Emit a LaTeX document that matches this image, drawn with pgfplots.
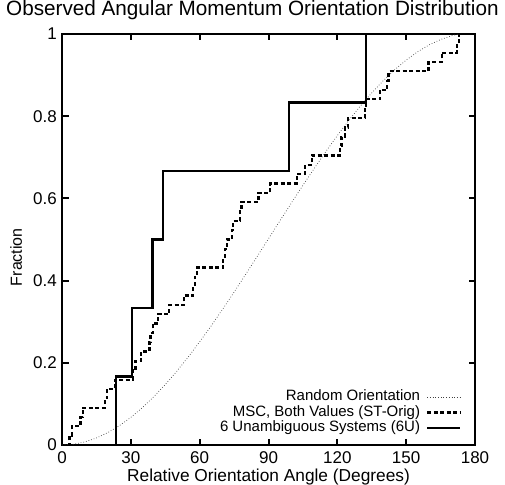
\documentclass[border=0pt]{standalone}
\usepackage{fontspec}
\setmainfont{Liberation Sans}
\usepackage{pgfplots}
\pgfplotsset{compat=1.18}
\begin{document}
\begin{tikzpicture}
\begin{axis}[
  name=ax,
  scale only axis,
  width=413pt, height=411pt,
  xmin=0, xmax=180, ymin=0, ymax=1,
  xtick={0,30,60,90,120,150,180},
  ytick={0,0.2,0.4,0.6,0.8,1},
  /pgf/number format/assume math mode=true,
  tick align=inside,
  major tick length=6.5pt,
  axis line style={line width=2pt},
  every tick/.style={black, line width=2pt},
  ticklabel style={font=\fontsize{17}{17}\selectfont},
  xticklabel style={anchor=base, yshift=-18.5pt, inner sep=0pt},
  yticklabel style={anchor=east, xshift=-5pt, inner sep=0pt},
  title={Observed Angular Momentum Orientation Distribution},
  title style={font=\fontsize{20.7}{20.7}\selectfont, at={(axis description cs:0.461,1.0316)}, anchor=base, inner sep=0pt},
  xlabel={Relative Orientation Angle (Degrees)},
  xlabel style={font=\fontsize{17.3}{17.3}\selectfont, at={(axis description cs:0.5,-0.0876)}, anchor=base, inner sep=0pt},
  ylabel={Fraction},
  ylabel style={font=\fontsize{16}{16}\selectfont, at={(axis description cs:-0.111,0.457)}, anchor=center, inner sep=0pt},
  legend plot pos=right,
  legend cell align=right,
  legend image code/.code={\draw[#1] (0pt,0pt) -- (33pt,0pt);},
  legend style={draw=none, fill=none, at={(axis description cs:0.975,0.017)}, anchor=south east,
    font=\fontsize{15}{15}\selectfont,
    nodes={inner sep=1pt, text height=10.5pt, text depth=3pt},
    row sep=0pt, column sep=5pt},
]
\addplot[black!75, line width=0.7pt, dotted] coordinates {
(0,0) (5,0.00191) (10,0.00762) (15,0.01710) (20,0.03027) (25,0.04702)
(30,0.06724) (35,0.09076) (40,0.11742) (45,0.14699) (50,0.17927)
(55,0.21401) (60,0.25094) (65,0.28977) (70,0.33022) (75,0.37198)
(80,0.41472) (85,0.45813) (90,0.50187) (95,0.54561) (100,0.58902)
(105,0.63176) (110,0.67352) (115,0.71397) (120,0.75280) (125,0.78973)
(130,0.82447) (135,0.85674) (140,0.88632) (145,0.91297) (150,0.93650)
(155,0.95672) (160,0.97347) (165,0.98664) (170,0.99612) (173,1.0)
};
\addlegendentry{Random Orientation}
\addplot[black, line width=2.2pt, dash pattern=on 4pt off 2.5pt, const plot] coordinates {
(2.5,0) (3.3,0.0227) (4.2,0.0455) (8.1,0.0682) (9.0,0.0909) (18.7,0.1136)
(19.5,0.1364) (23.1,0.1591) (30.8,0.1818) (32.0,0.2045) (34.5,0.2273)
(38.1,0.2500) (38.6,0.2727) (39.5,0.2955) (42.0,0.3182) (46.8,0.3409)
(53.2,0.3636) (57.2,0.3864) (57.8,0.4091) (58.7,0.4318) (70.3,0.4545)
(71.0,0.4773) (72.0,0.5000) (74.0,0.5227) (74.5,0.5455) (77.6,0.5682)
(78.2,0.5909) (85.6,0.6136) (90.7,0.6364) (102.3,0.6591) (106.0,0.6818)
(108.8,0.7045) (121.2,0.7273) (121.8,0.7500) (123.4,0.7727) (124.8,0.7955)
(132.1,0.8182) (132.6,0.8409) (138.6,0.8636) (141.8,0.8864) (142.3,0.9091)
(159.7,0.9318) (165.5,0.9545) (172.1,0.9773) (173.0,1.0) (173.0,1.0)
};
\addlegendentry{MSC, Both Values (ST-Orig)}
\addplot[black, line width=2.4pt, const plot] coordinates {
(23.5,0) (23.5,0.1667) (30.5,0.3333) (39.5,0.5) (43.9,0.6667)
(99.0,0.8333) (132.4,1.0) (132.4,1.0)
};
\addlegendentry{6 Unambiguous Systems (6U)}
\end{axis}
\pgfresetboundingbox
\path ([shift={(-62pt,-39pt)}]ax.south west) rectangle ([shift={(30pt,34pt)}]ax.north east);
\end{tikzpicture}
\end{document}
